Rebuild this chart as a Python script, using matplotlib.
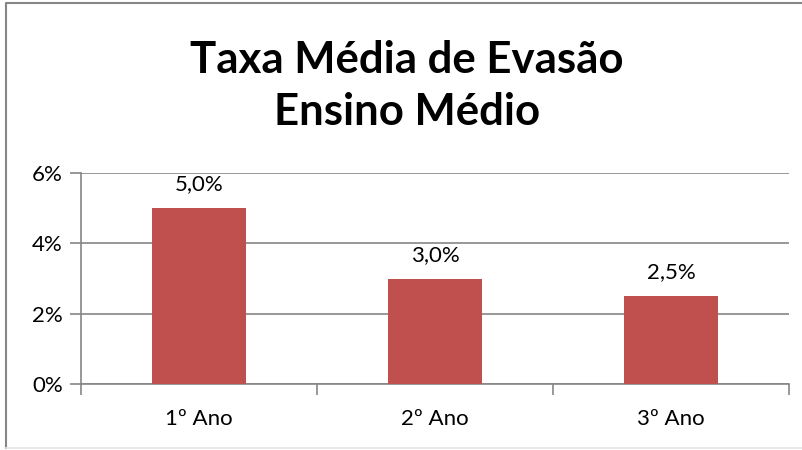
import matplotlib.pyplot as plt
import numpy as np
from matplotlib.lines import Line2D

categorias = ["1º Ano", "2º Ano", "3º Ano"]
taxas = [5.0, 3.0, 2.5]
rotulos = ["5,0%", "3,0%", "2,5%"]
yticks = [0, 2, 4, 6]
ytick_labels = ["0%", "2%", "4%", "6%"]

plt.rcParams['font.family'] = ['Lato', 'DejaVu Sans']
grey = "#868686"

fig = plt.figure(figsize=(8.03, 4.5), dpi=100)
# moldura externa do gráfico (esquerda/topo cinza, base clara)
fig.add_artist(Line2D([6/803, 6/803, 1], [2/450, 1 - 2.5/450, 1 - 2.5/450],
                      transform=fig.transFigure, color=grey, linewidth=1.5))
fig.add_artist(Line2D([6/803, 1], [2/450, 2/450], transform=fig.transFigure,
                      color="#E6E6E6", linewidth=1.2))

ax = fig.add_axes([81/803, 1 - 384/450, 708/803, 211/450])
x = np.arange(len(categorias))
ax.bar(x, taxas, width=0.4, color="#C0504D", zorder=3)
for xi, v, r in zip(x, taxas, rotulos):
    ax.annotate(r, (xi, v), xytext=(0, 10), textcoords="offset points",
                ha="center", va="bottom", fontsize=16)

ax.set_xlim(-0.5, len(categorias) - 0.5)
ax.set_ylim(0, 6)
ax.set_yticks(yticks)
ax.set_yticklabels(ytick_labels, fontsize=16)
ax.set_xticks(x)
ax.set_xticklabels(categorias, fontsize=16)
ax.tick_params(axis='x', length=0, pad=18)
ax.set_xticks(np.arange(-0.5, len(categorias)), minor=True)
ax.tick_params(axis='x', which='minor', length=8, width=1.2, color=grey)
ax.tick_params(axis='y', length=8, width=1.2, color=grey, pad=5)
ax.grid(axis='y', color=grey, linewidth=1.2, zorder=0)
for s in ['top', 'right']:
    ax.spines[s].set_visible(False)
for s in ['left', 'bottom']:
    ax.spines[s].set_color(grey)
    ax.spines[s].set_linewidth(1.2)

fig.text(407/803, 1 - 86/450, "Taxa Média de Evasão\nEnsino Médio", ha="center", va="center",
         fontsize=31.5, fontweight="bold", linespacing=1.38)

fig.savefig("out.png", dpi=100)
